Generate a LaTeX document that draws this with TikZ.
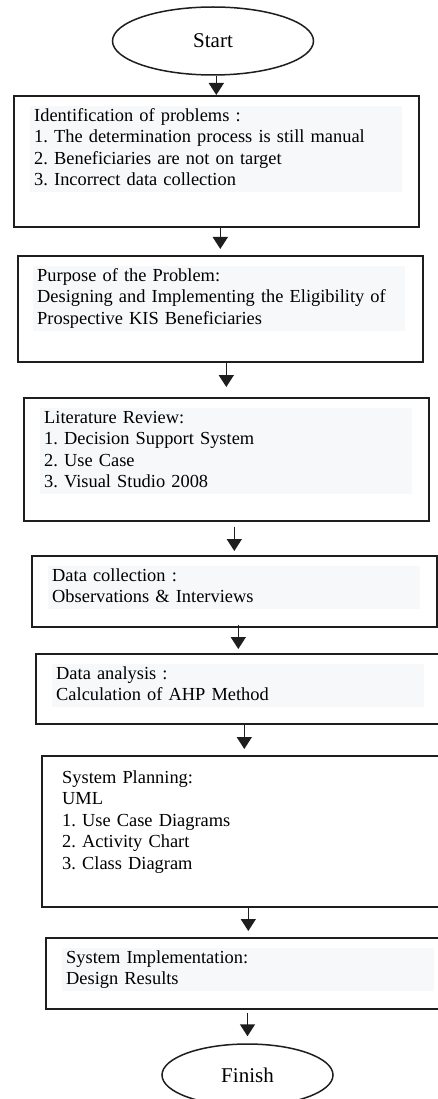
\documentclass[tikz,border=0pt]{standalone}
\usepackage{fontspec}
\setmainfont{Liberation Serif}
\usepackage{xcolor}
\usetikzlibrary{
	arrows.meta,
	shapes.geometric,
	positioning
}
\definecolor{TextBg}{RGB}{247,248,250}
\definecolor{InkGray}{RGB}{30,30,30}
\frenchspacing

\begin{document}
\begin{tikzpicture}[x=1pt, y=-1pt,
		terminal/.style={ellipse, draw=InkGray, line width=1.5pt, inner sep=0pt, font=\fontsize{21}{24}\selectfont},
		stage/.style={rectangle, draw=InkGray, line width=1.6pt, anchor=north west, minimum width=405pt, inner sep=0pt},
		stagetext/.style={anchor=north west, fill=TextBg, text width=364pt, inner xsep=4pt, inner ysep=0pt, align=left,
			font=\fontsize{18.4}{21.5}\selectfont, execute at begin node=\strut, execute at end node=\strut},
		flow/.style={line width=1.6pt, draw=InkGray, -{Triangle[length=12pt, width=15pt]}}]
		\clip (0,0) rectangle (438,1099);
		\fill[white] (0,0) rectangle (438,1099);
		% start and end of the flow
		\node[terminal, minimum width=201pt, minimum height=68pt] (start) at (213,41) {Start};
		\node[terminal, minimum width=171pt, minimum height=62pt] (finish) at (247.5,1075) {Finish};
		% the stages, top to bottom
		\node[stage, minimum height=131pt] (prob) at (13,95) {};
		\node[stage, minimum height=106pt] (purp) at (17,255) {};
		\node[stage, minimum height=123pt] (lit) at (23,397) {};
		\node[stage, minimum height=71pt] (coll) at (31,555) {};
		\node[stage, minimum height=70pt] (anal) at (35,653) {};
		\node[stage, minimum height=151pt] (plan) at (41,755) {};
		\node[stage, minimum height=71pt] (impl) at (45,937) {};
		\node[stagetext] (probtxt) at ([xshift=17pt, yshift=-11pt]prob.north west)
			{Identification of problems :\\1. The determination process is still manual\\2. Beneficiaries are not on target\\3. Incorrect data collection};
		\node[stagetext] (purptxt) at ([xshift=16pt, yshift=-11pt]purp.north west)
			{Purpose of the Problem:\\Designing and Implementing the Eligibility of\\Prospective KIS Beneficiaries};
		\node[stagetext] (littxt) at ([xshift=17pt, yshift=-11pt]lit.north west)
			{Literature Review:\\1. Decision Support System\\2. Use Case\\3. Visual Studio 2008};
		\node[stagetext] (colltxt) at ([xshift=17pt, yshift=-11pt]coll.north west)
			{Data collection :\\Observations \& Interviews};
		\node[stagetext] (analtxt) at ([xshift=17pt, yshift=-11pt]anal.north west)
			{Data analysis :\\Calculation of AHP Method};
		\node[stagetext, fill=none] (plantxt) at ([xshift=17pt, yshift=-13pt]plan.north west)
			{System Planning:\\UML\\1. Use Case Diagrams\\2. Activity Chart\\3. Class Diagram};
		\node[stagetext] (impltxt) at ([xshift=17pt, yshift=-11pt]impl.north west)
			{System Implementation:\\Design Results};
		% arrows between stages
		\foreach \a/\b/\s/\e in {start/prob/0pt/0pt, prob/purp/0pt/6pt, purp/lit/0pt/10pt, lit/coll/5pt/4pt,
			coll/anal/-3pt/4pt, anal/plan/0pt/6pt, plan/impl/0pt/6pt, impl/finish/3pt/7pt}
		\draw[flow, shorten <=\s, shorten >=\e] (\b.north |- \a.south) -- (\b.north);
	\end{tikzpicture}
\end{document}
